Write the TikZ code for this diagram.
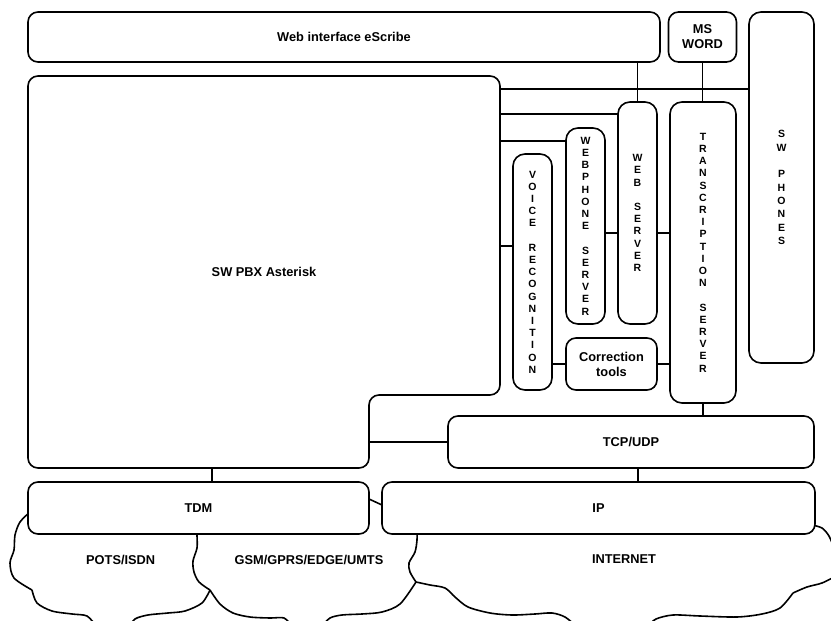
\documentclass[tikz,border=0pt]{standalone}
\usepackage{fontspec}
\setmainfont{Liberation Sans}
\usetikzlibrary{positioning}

\begin{document}
\begin{tikzpicture}[
    x=1pt, y=-1pt,
    block/.style={draw,line width=1.6pt,rounded corners=10pt,fill=white,inner sep=0pt,outer sep=0pt,align=center,font=\bfseries\fontsize{12.8}{15}\selectfont},
    vblock/.style={block,rounded corners=12pt,font=\bfseries\fontsize{10.5}{12.2}\selectfont},
    lbl/.style={font=\bfseries\fontsize{12.8}{15}\selectfont},
    link/.style={line width=1.6pt},
    cloudline/.style={line width=1.6pt}
]
\useasboundingbox (0,0) rectangle (831,621);
\clip (0,0) rectangle (831,621);

% networks (clouds)
\draw[cloudline] plot[smooth] coordinates {(30,512) (20,522) (15,535) (14,550) (10,563) (14,578) (32,590)};
\draw[cloudline] plot[smooth] coordinates {(32,590) (37,603) (52,611) (72,614) (87,616) (96,626)};
\draw[cloudline] plot[smooth] coordinates {(128,628) (135,619) (148,615) (168,613) (185,611) (202,603) (210,590)};
\draw[cloudline] plot[smooth] coordinates {(210,590) (199,582) (194,572) (193,561) (197,548) (197,535) (197,525)};
\draw[cloudline] plot[smooth] coordinates {(210,590) (220,604) (233,613) (250,617) (270,618) (284,618) (292,626)};
\draw[cloudline] plot[smooth] coordinates {(322,626) (330,618) (342,615) (362,614) (382,612) (400,604) (416,582)};
\draw[cloudline] plot[smooth] coordinates {(416,582) (410,572) (409,563) (415,552) (417,540) (417,528)};
\draw[cloudline] plot[smooth] coordinates {(416,582) (430,585) (445,588) (455,597) (468,607) (490,613) (512,615) (535,614) (552,613) (565,617) (576,626)};
\draw[cloudline] plot[smooth] coordinates {(648,626) (656,619) (673,615) (700,616) (737,617) (762,614) (780,608) (793,593)};
\draw[cloudline] plot[smooth] coordinates {(793,593) (807,587) (822,583) (836,576)};
\draw[cloudline] plot[smooth] coordinates {(812,525) (822,528) (829,536) (834,548)};
\node[lbl] (pots) at (120.7,560) {POTS/ISDN};
\node[lbl] (gsm) at (309,560) {GSM/GPRS/EDGE/UMTS};
\node[lbl] (inet) at (624,559) {INTERNET};

% top row
\node[block,minimum width=632pt,minimum height=50pt] (web) at (344,37) {Web interface eScribe};
\node[block,minimum width=68pt,minimum height=50pt] (msword) at (702.5,37) {MS\\WORD};
\node[vblock,minimum width=65pt,minimum height=351pt,font=\bfseries\fontsize{10.5}{13.3}\selectfont] (phones) at (781.5,187.5) {S\\W\\~\\P\\H\\O\\N\\E\\S};

% PBX
\node[block,draw=none,fill=none,minimum width=472pt,minimum height=392pt] (pbx) at (264,272) {SW PBX Asterisk};
\coordinate (pbxstep) at (369,395);
\draw[link,rounded corners=10pt] (pbx.north west) -- (pbx.north east) -- (pbx.east |- pbxstep) -- (pbxstep) -- (pbxstep |- pbx.south) -- (pbx.south west) -- cycle;

% servers
\node[vblock,minimum width=39pt,minimum height=222pt] (websrv) at (637.5,213) {W\\E\\B\\~\\S\\E\\R\\V\\E\\R};
\node[vblock,minimum width=66pt,minimum height=301pt] (trans) at (703,252.5) {T\\R\\A\\N\\S\\C\\R\\I\\P\\T\\I\\O\\N\\~\\S\\E\\R\\V\\E\\R};
\node[vblock,minimum width=39pt,minimum height=196pt] (webphone) at (585.5,226) {W\\E\\B\\P\\H\\O\\N\\E\\~\\S\\E\\R\\V\\E\\R};
\node[vblock,minimum width=39pt,minimum height=236pt] (voice) at (532.5,272) {V\\O\\I\\C\\E\\~\\R\\E\\C\\O\\G\\N\\I\\T\\I\\O\\N};
\node[block,minimum width=91pt,minimum height=52pt] (correct) at (611.5,364) {Correction\\tools};

% transport layers
\node[block,minimum width=366pt,minimum height=52pt] (tcp) at (631,442) {TCP/UDP};
\node[block,minimum width=341pt,minimum height=52pt] (tdm) at (198.5,508) {TDM};
\node[block,minimum width=433pt,minimum height=52pt] (ip) at (598.5,508) {IP};

% links
\coordinate (busA) at ([yshift=-13pt]pbx.north east);
\coordinate (busB) at ([yshift=-12pt]websrv.north west);
\coordinate (busC) at ([yshift=-13pt]webphone.north west);
\coordinate (busD) at ([yshift=26pt]voice.west);
\coordinate (busE) at ([yshift=-7pt]webphone.east);
\draw[link] (busA) -- (busA -| phones.west);
\draw[link] (busB -| pbx.east) -- (busB);
\draw[link] (busC -| pbx.east) -- (busC);
\draw[link] (busD -| pbx.east) -- (busD);
\draw[link] (busE) -- (busE -| websrv.west);
\draw[link] (busE -| websrv.east) -- (busE -| trans.west);
\draw[link] (websrv.north) -- (websrv.north |- web.south);
\draw[link] (msword.south) -- (msword.south |- trans.north);
\draw[link] (correct.west) -- (correct.west -| voice.east);
\draw[link] (correct.east) -- (correct.east -| trans.west);
\draw[link] (trans.south) -- (trans.south |- tcp.north);
\draw[link] (tcp.west -| pbxstep) -- (tcp.west);

\coordinate (tdmup) at ([xshift=13.5pt]tdm.north);
\coordinate (tcpdn) at ([xshift=7pt]tcp.south);
\draw[link] (tdmup) -- (tdmup |- pbx.south);
\draw[link] (tcpdn) -- (tcpdn |- ip.north);
\draw[link] ([yshift=9pt]tdm.east) -- ([yshift=3pt]ip.west);

\end{tikzpicture}
\end{document}
